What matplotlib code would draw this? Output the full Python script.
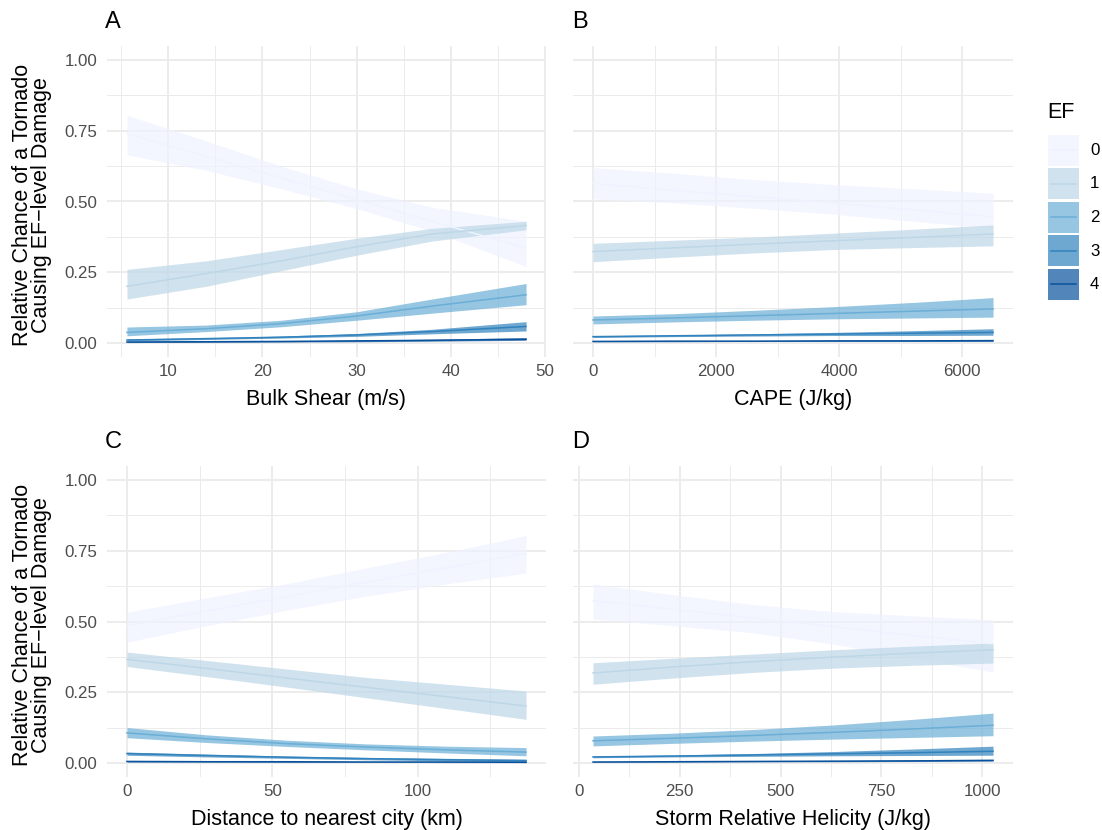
import numpy as np
import matplotlib.pyplot as plt
from matplotlib.patches import Rectangle

plt.rcParams['font.family'] = ['Liberation Sans', 'DejaVu Sans']

# ---- data (mean, lower, upper for EF0..EF4) ----
ef_levels = ['0', '1', '2', '3', '4']
ef_colors = ['#eff3ff', '#bdd7e7', '#6baed6', '#3182bd', '#08519c']

shear_x = [5.6, 14, 22, 30, 38, 48]
shear_mean = [[0.740, 0.660, 0.583, 0.507, 0.430, 0.335],
              [0.200, 0.245, 0.290, 0.340, 0.385, 0.415],
              [0.037, 0.050, 0.068, 0.095, 0.130, 0.170],
              [0.010, 0.015, 0.020, 0.028, 0.040, 0.058],
              [0.003, 0.004, 0.005, 0.007, 0.009, 0.013]]
shear_lo = [[0.665, 0.610, 0.545, 0.475, 0.395, 0.270],
            [0.155, 0.200, 0.255, 0.310, 0.360, 0.400],
            [0.025, 0.040, 0.057, 0.080, 0.105, 0.135],
            [0.007, 0.012, 0.017, 0.023, 0.032, 0.042],
            [0.001, 0.002, 0.003, 0.004, 0.006, 0.009]]
shear_hi = [[0.805, 0.715, 0.625, 0.545, 0.480, 0.430],
            [0.260, 0.290, 0.330, 0.370, 0.405, 0.430],
            [0.056, 0.063, 0.080, 0.110, 0.155, 0.210],
            [0.014, 0.018, 0.024, 0.033, 0.048, 0.075],
            [0.005, 0.006, 0.007, 0.010, 0.013, 0.018]]

cape_x = [0, 1300, 2600, 3900, 5200, 6500]
cape_mean = [[0.564, 0.540, 0.517, 0.495, 0.470, 0.446],
             [0.323, 0.336, 0.349, 0.361, 0.373, 0.385],
             [0.081, 0.088, 0.096, 0.104, 0.112, 0.120],
             [0.022, 0.025, 0.028, 0.031, 0.034, 0.037],
             [0.005, 0.006, 0.006, 0.007, 0.007, 0.008]]
cape_lo = [[0.509, 0.495, 0.476, 0.455, 0.430, 0.405],
           [0.287, 0.303, 0.318, 0.330, 0.337, 0.343],
           [0.067, 0.074, 0.080, 0.085, 0.088, 0.091],
           [0.019, 0.022, 0.024, 0.026, 0.026, 0.027],
           [0.004, 0.004, 0.005, 0.005, 0.005, 0.005]]
cape_hi = [[0.620, 0.600, 0.578, 0.560, 0.545, 0.529],
           [0.352, 0.363, 0.374, 0.388, 0.402, 0.417],
           [0.095, 0.103, 0.115, 0.128, 0.143, 0.160],
           [0.025, 0.028, 0.032, 0.037, 0.043, 0.050],
           [0.006, 0.007, 0.008, 0.009, 0.010, 0.011]]

dist_x = [0, 27.5, 55, 82.5, 110, 137.3]
dist_mean = [[0.486, 0.537, 0.588, 0.639, 0.690, 0.741],
             [0.366, 0.334, 0.300, 0.267, 0.234, 0.201],
             [0.106, 0.085, 0.068, 0.056, 0.046, 0.038],
             [0.033, 0.026, 0.020, 0.015, 0.011, 0.008],
             [0.005, 0.004, 0.004, 0.003, 0.003, 0.002]]
dist_lo = [[0.427, 0.485, 0.540, 0.590, 0.633, 0.671],
           [0.341, 0.305, 0.268, 0.230, 0.192, 0.154],
           [0.089, 0.072, 0.058, 0.046, 0.035, 0.025],
           [0.027, 0.021, 0.016, 0.011, 0.007, 0.003],
           [0.003, 0.003, 0.002, 0.002, 0.001, 0.001]]
dist_hi = [[0.533, 0.584, 0.634, 0.690, 0.745, 0.804],
           [0.392, 0.362, 0.332, 0.302, 0.278, 0.254],
           [0.125, 0.099, 0.080, 0.067, 0.059, 0.054],
           [0.038, 0.031, 0.024, 0.019, 0.016, 0.013],
           [0.006, 0.005, 0.005, 0.004, 0.004, 0.004]]

srh_x = [35, 233, 432, 630, 829, 1027]
srh_mean = [[0.574, 0.543, 0.512, 0.482, 0.451, 0.421],
            [0.318, 0.339, 0.358, 0.374, 0.388, 0.400],
            [0.078, 0.087, 0.097, 0.108, 0.120, 0.133],
            [0.021, 0.024, 0.028, 0.032, 0.036, 0.041],
            [0.003, 0.004, 0.005, 0.006, 0.007, 0.009]]
srh_lo = [[0.509, 0.485, 0.460, 0.420, 0.370, 0.321],
          [0.278, 0.300, 0.320, 0.335, 0.345, 0.353],
          [0.060, 0.069, 0.077, 0.084, 0.090, 0.096],
          [0.018, 0.021, 0.023, 0.025, 0.026, 0.027],
          [0.002, 0.003, 0.004, 0.004, 0.005, 0.006]]
srh_hi = [[0.633, 0.595, 0.560, 0.535, 0.520, 0.506],
          [0.354, 0.370, 0.385, 0.400, 0.413, 0.424],
          [0.095, 0.105, 0.118, 0.134, 0.154, 0.176],
          [0.024, 0.028, 0.033, 0.040, 0.049, 0.059],
          [0.004, 0.005, 0.006, 0.008, 0.010, 0.012]]

W, H = 1102, 830
fig = plt.figure(figsize=(W / 100, H / 100), dpi=100)
grid_col = '#ebebeb'
tick_col = '#4d4d4d'
fs_tick = 12.2
fs_title = 15.5


def ax_at(l, t, r, b):
    return fig.add_axes([l / W, 1 - b / H, (r - l) / W, (b - t) / H])


def panel(ax, x, mean, lo, hi, xmajor, xminor, xlabel, show_y):
    for k in range(5):
        ax.fill_between(x, lo[k], hi[k], color=ef_colors[k], alpha=0.7, lw=0, zorder=2)
    for k in range(5):
        ax.plot(x, mean[k], color=ef_colors[k], lw=1.1, zorder=3)
    span = x[-1] - x[0]
    ax.set_xlim(x[0] - 0.05 * span, x[-1] + 0.05 * span)
    ax.set_ylim(-0.05, 1.05)
    ax.set_xticks(xmajor)
    ax.set_xticks(xminor, minor=True)
    ax.set_yticks([0, 0.25, 0.5, 0.75, 1.0])
    ax.set_yticks([0.125, 0.375, 0.625, 0.875], minor=True)
    ax.grid(True, which='major', color=grid_col, lw=1.3, zorder=0)
    ax.grid(True, which='minor', color=grid_col, lw=0.7, zorder=0)
    ax.set_axisbelow(True)
    for s in ax.spines.values():
        s.set_visible(False)
    ax.tick_params(which='both', length=0, labelsize=fs_tick, labelcolor=tick_col)
    ax.tick_params(axis='x', pad=5)
    ax.tick_params(axis='y', pad=7)
    if show_y:
        ax.set_yticklabels(['0.00', '0.25', '0.50', '0.75', '1.00'])
    else:
        ax.set_yticklabels([])
    ax.set_xlabel(xlabel, fontsize=fs_title, labelpad=7)


axA = ax_at(107, 46, 546, 357)
axB = ax_at(573, 46, 1013, 357)
axC = ax_at(107, 466, 546, 777)
axD = ax_at(573, 466, 1013, 777)

panel(axA, shear_x, shear_mean, shear_lo, shear_hi,
      [10, 20, 30, 40, 50], [5, 15, 25, 35, 45], 'Bulk Shear (m/s)', True)
panel(axB, cape_x, cape_mean, cape_lo, cape_hi,
      [0, 2000, 4000, 6000], [1000, 3000, 5000], 'CAPE (J/kg)', False)
panel(axC, dist_x, dist_mean, dist_lo, dist_hi,
      [0, 50, 100], [25, 75, 125], 'Distance to nearest city (km)', True)
panel(axD, srh_x, srh_mean, srh_lo, srh_hi,
      [0, 250, 500, 750, 1000], [125, 375, 625, 875], 'Storm Relative Helicity (J/kg)', False)

# panel tags
for tag, tx, ty in [('A', 105, 22), ('B', 572, 22), ('C', 105, 442), ('D', 572, 442)]:
    fig.text(tx / W, 1 - ty / H, tag, fontsize=17, ha='left', va='center')

ylab = 'Relative Chance of a Tornado\nCausing EF\u2212level Damage'
for yc in (205, 625):
    fig.text(32 / W, 1 - yc / H, ylab, rotation=90, fontsize=fs_title,
             ha='center', va='center', multialignment='center', linespacing=0.92)

# legend
lax = ax_at(1040, 100, 1102, 310)
lax.set_xlim(1040, 1102)
lax.set_ylim(310, 100)
lax.axis('off')
lax.text(1047, 113, 'EF', fontsize=fs_title, ha='left', va='center')
for k, lab in enumerate(ef_levels):
    top = 135 + k * 33.5
    lax.add_patch(Rectangle((1048, top), 31, 31, facecolor=ef_colors[k], alpha=0.7, lw=0))
    lax.plot([1051, 1076], [top + 15.5, top + 15.5], color=ef_colors[k], lw=1.1)
    lax.text(1090, top + 15.5, lab, fontsize=fs_tick, ha='left', va='center')

fig.savefig('out.png', dpi=100)
